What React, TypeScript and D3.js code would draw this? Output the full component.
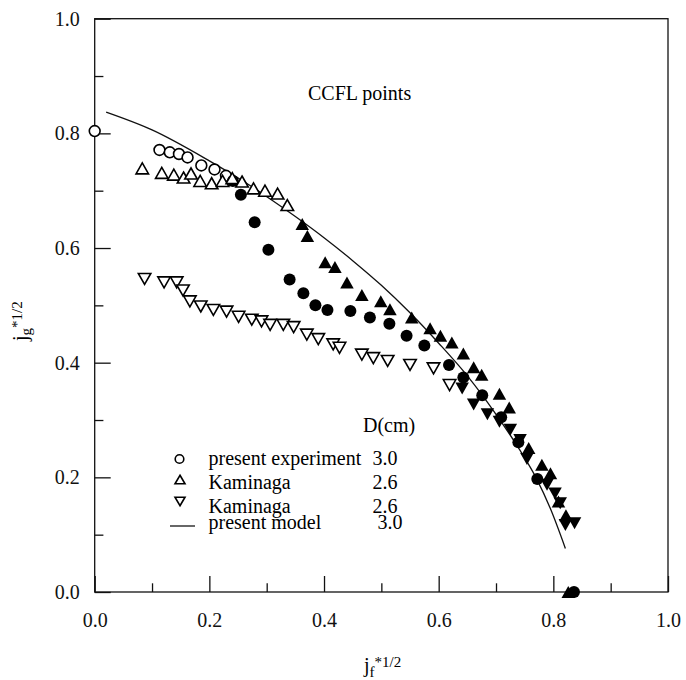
import React, { useEffect, useRef } from "react";
import { select, scaleLinear, axisLeft, axisBottom, line, curveMonotoneX, range } from "d3";

// present experiment (open circles)
const openCircles = [
  [0.0, 0.804], [0.113, 0.771], [0.131, 0.767], [0.147, 0.764], [0.162, 0.758],
  [0.186, 0.744], [0.209, 0.737], [0.229, 0.726],
];

// Kaminaga, open up triangles
const openUp = [
  [0.083, 0.739], [0.117, 0.731], [0.138, 0.728], [0.155, 0.723], [0.168, 0.73],
  [0.184, 0.717], [0.204, 0.713], [0.223, 0.717], [0.24, 0.722], [0.257, 0.716],
  [0.277, 0.704], [0.297, 0.7], [0.319, 0.695], [0.336, 0.675],
];

// Kaminaga, open down triangles
const openDown = [
  [0.087, 0.546], [0.121, 0.54], [0.143, 0.54], [0.154, 0.526], [0.166, 0.507],
  [0.185, 0.498], [0.207, 0.492], [0.23, 0.489], [0.251, 0.48], [0.274, 0.475],
  [0.291, 0.472], [0.306, 0.466], [0.329, 0.466], [0.347, 0.462], [0.37, 0.449],
  [0.39, 0.441], [0.416, 0.432], [0.427, 0.426], [0.466, 0.414], [0.486, 0.408],
  [0.511, 0.403], [0.55, 0.396], [0.591, 0.39], [0.619, 0.361],
];

// CCFL points (filled symbols)
const filledCircles = [
  [0.241, 0.717], [0.255, 0.693], [0.279, 0.645], [0.303, 0.597], [0.34, 0.545],
  [0.364, 0.521], [0.385, 0.5], [0.406, 0.492], [0.446, 0.49], [0.48, 0.479],
  [0.514, 0.468], [0.544, 0.447], [0.575, 0.43], [0.618, 0.396], [0.643, 0.374],
  [0.676, 0.343], [0.709, 0.305], [0.739, 0.261], [0.772, 0.197], [0.836, 0.0],
];

const filledUp = [
  [0.362, 0.642], [0.371, 0.621], [0.402, 0.575], [0.419, 0.567], [0.44, 0.54],
  [0.466, 0.518], [0.499, 0.507], [0.515, 0.493], [0.553, 0.479], [0.585, 0.46],
  [0.603, 0.447], [0.623, 0.435], [0.643, 0.416], [0.661, 0.392], [0.675, 0.379],
  [0.706, 0.346], [0.723, 0.322], [0.757, 0.251], [0.78, 0.222], [0.795, 0.207],
  [0.809, 0.158], [0.822, 0.134], [0.826, 0.0],
];

const filledDown = [
  [0.641, 0.355], [0.661, 0.327], [0.685, 0.31], [0.706, 0.297], [0.725, 0.283],
  [0.742, 0.265], [0.754, 0.232], [0.789, 0.187], [0.803, 0.172], [0.812, 0.155],
  [0.821, 0.117], [0.837, 0.12],
];

// present model
const model = [
  [0.02, 0.837], [0.1, 0.806], [0.2, 0.752], [0.26, 0.716], [0.31, 0.683],
  [0.35, 0.655], [0.4, 0.618], [0.45, 0.578], [0.5, 0.535], [0.55, 0.487],
  [0.6, 0.434], [0.65, 0.377], [0.7, 0.31], [0.74, 0.25], [0.77, 0.199],
  [0.795, 0.145], [0.821, 0.076],
];

const legendRows = [
  { name: "present experiment", d: "3.0", sym: "circle" },
  { name: "Kaminaga", d: "2.6", sym: "up" },
  { name: "Kaminaga", d: "2.6", sym: "down" },
  { name: "present model", d: "3.0", sym: "line" },
];

const FONT = '"Liberation Serif", "Times New Roman", Times, serif';

const triUp = (w, h) => `M0,${-h / 2}L${w / 2},${h / 2}L${-w / 2},${h / 2}Z`;
const triDown = (w, h) => `M0,${h / 2}L${w / 2},${-h / 2}L${-w / 2},${-h / 2}Z`;

function App() {
  const svgRef = useRef(null);

  useEffect(() => {
    const svg = select(svgRef.current);
    svg.selectAll("*").remove();

    const L = 94.7, R = 668, T = 18.7, B = 592;
    const x = scaleLinear().domain([0, 1]).range([L, R]);
    const y = scaleLinear().domain([0, 1]).range([B, T]);

    // frame
    svg.append("rect")
      .attr("x", L).attr("y", T).attr("width", R - L).attr("height", B - T)
      .attr("fill", "none").attr("stroke", "#111").attr("stroke-width", 1.3);

    const major = range(0, 1.01, 0.2);
    const minor = [0.1, 0.3, 0.5, 0.7, 0.9];

    const styleAxis = (g) => {
      g.attr("font-family", null).attr("font-size", null);
      g.select(".domain").remove();
      g.selectAll("line").attr("stroke", "#111").attr("stroke-width", 1.3);
      g.selectAll("text").style("font-family", FONT).style("font-size", "20px").attr("fill", "#111");
    };

    svg.append("g").attr("transform", `translate(${L},0)`)
      .call(axisLeft(y).tickValues(major).tickSize(-16).tickPadding(15).tickFormat((d) => d.toFixed(1)))
      .call(styleAxis);
    svg.append("g").attr("transform", `translate(${L},0)`)
      .call(axisLeft(y).tickValues(minor).tickSize(-8.7).tickFormat(() => ""))
      .call(styleAxis);
    svg.append("g").attr("transform", `translate(0,${B})`)
      .call(axisBottom(x).tickValues(major).tickSize(-16).tickPadding(21).tickFormat((d) => d.toFixed(1)))
      .call(styleAxis);
    svg.append("g").attr("transform", `translate(0,${B})`)
      .call(axisBottom(x).tickValues(minor).tickSize(-8.7).tickFormat(() => ""))
      .call(styleAxis);

    // model line
    svg.append("path")
      .datum(model)
      .attr("d", line().x((d) => x(d[0])).y((d) => y(d[1])).curve(curveMonotoneX))
      .attr("fill", "none").attr("stroke", "#111").attr("stroke-width", 1.3);

    const marks = svg.append("g");

    marks.selectAll(".oc").data(openCircles).join("circle")
      .attr("cx", (d) => x(d[0])).attr("cy", (d) => y(d[1])).attr("r", 5.4)
      .attr("fill", "#fff").attr("stroke", "#000").attr("stroke-width", 1.6);

    marks.selectAll(".fc").data(filledCircles).join("circle")
      .attr("cx", (d) => x(d[0])).attr("cy", (d) => y(d[1])).attr("r", 6)
      .attr("fill", "#000");

    marks.selectAll(".ou").data(openUp).join("path")
      .attr("transform", (d) => `translate(${x(d[0])},${y(d[1])})`)
      .attr("d", triUp(12.5, 11)).attr("fill", "#fff").attr("stroke", "#000").attr("stroke-width", 1.6);

    marks.selectAll(".od").data(openDown).join("path")
      .attr("transform", (d) => `translate(${x(d[0])},${y(d[1])})`)
      .attr("d", triDown(12.5, 11)).attr("fill", "#fff").attr("stroke", "#000").attr("stroke-width", 1.6);

    marks.selectAll(".fu").data(filledUp).join("path")
      .attr("transform", (d) => `translate(${x(d[0])},${y(d[1])})`)
      .attr("d", triUp(13.5, 12)).attr("fill", "#000");

    marks.selectAll(".fd").data(filledDown).join("path")
      .attr("transform", (d) => `translate(${x(d[0])},${y(d[1])})`)
      .attr("d", triDown(13.5, 12)).attr("fill", "#000");

    const txt = (sel) => sel.style("font-family", FONT).style("font-size", "20px");

    // annotations
    svg.append("text").attr("x", 308).attr("y", 100).call(txt).text("CCFL points");
    svg.append("text").attr("x", 363).attr("y", 432).call(txt).text("D(cm)");

    const rowY = [465, 488.5, 512.5, 528.5];
    const rows = svg.append("g");
    legendRows.forEach((r, i) => {
      const cy = rowY[i] - 6;
      if (r.sym === "circle") {
        rows.append("circle").attr("cx", 179.5).attr("cy", cy).attr("r", 4.3)
          .attr("fill", "none").attr("stroke", "#000").attr("stroke-width", 1.6);
      } else if (r.sym === "up") {
        rows.append("path").attr("transform", `translate(180,${cy - 3})`)
          .attr("d", triUp(10, 8.5)).attr("fill", "none").attr("stroke", "#000").attr("stroke-width", 1.6);
      } else if (r.sym === "down") {
        rows.append("path").attr("transform", `translate(180,${cy - 5})`)
          .attr("d", triDown(10, 8.5)).attr("fill", "none").attr("stroke", "#000").attr("stroke-width", 1.6);
      } else {
        rows.append("line").attr("x1", 170).attr("x2", 195).attr("y1", 526).attr("y2", 526)
          .attr("stroke", "#000").attr("stroke-width", 1.2);
      }
      rows.append("text").attr("x", 208.5).attr("y", rowY[i]).call(txt).text(r.name);
      rows.append("text").attr("x", i === 3 ? 377.5 : 372.5).attr("y", rowY[i]).call(txt).text(r.d);
    });

    // axis titles
    const xt = svg.append("text").attr("x", 364).attr("y", 672).call(txt);
    xt.append("tspan").text("j");
    xt.append("tspan").style("font-size", "15px").attr("dy", 5).text("f");
    xt.append("tspan").style("font-size", "15px").attr("dy", -10).text("*1/2");

    const yt = svg.append("text").attr("transform", "translate(27,341) rotate(-90)").call(txt);
    yt.append("tspan").text("j");
    yt.append("tspan").style("font-size", "15px").attr("dy", 4).text("g");
    yt.append("tspan").style("font-size", "15px").attr("dy", -9).text("*1/2");
  }, []);

  return (
    <svg
      ref={svgRef}
      width={686}
      height={680}
      style={{ position: "absolute", left: 0, top: 0, background: "#fff" }}
    />
  );
}

export default App;
